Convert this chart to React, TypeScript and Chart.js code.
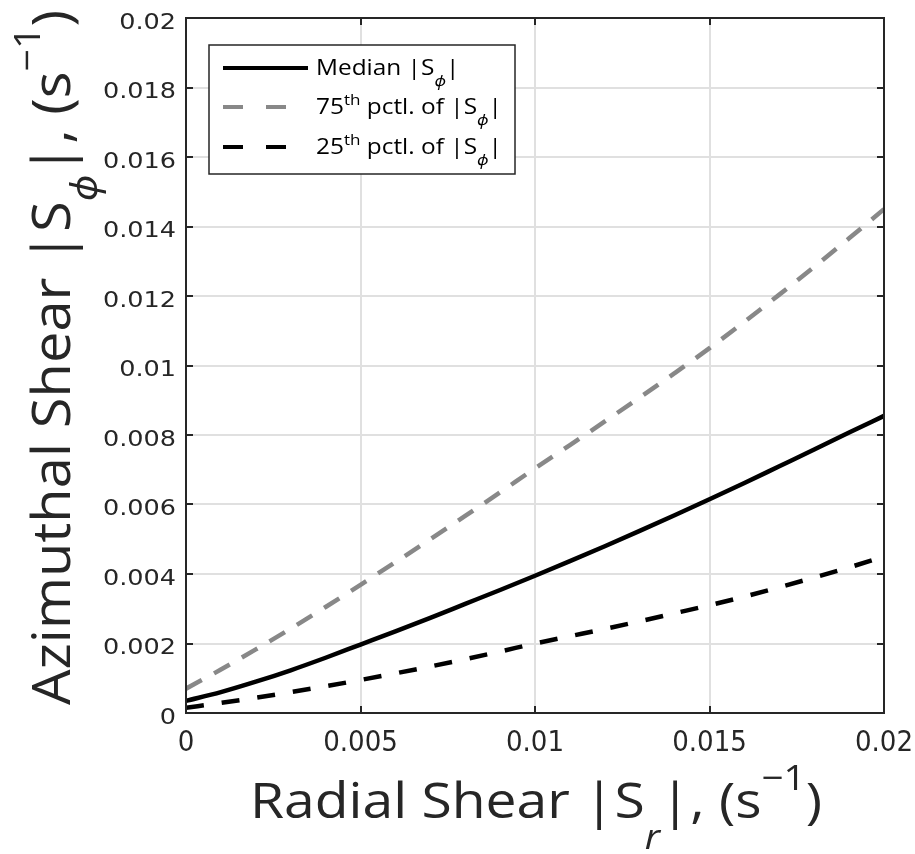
import React, { useEffect, useRef } from "react";
import { Chart, registerables } from "chart.js";

Chart.register(...registerables);

const xValues = [0, 0.001, 0.002, 0.003, 0.004, 0.005, 0.006, 0.007, 0.008, 0.009, 0.01, 0.011, 0.012, 0.013, 0.014, 0.015, 0.016, 0.017, 0.018, 0.019, 0.02];
const medianValues = [0.00035, 0.0006, 0.0009, 0.00123, 0.00159, 0.00197, 0.00235, 0.00274, 0.00314, 0.00354, 0.00395, 0.00437, 0.0048, 0.00524, 0.00569, 0.00615, 0.00662, 0.0071, 0.00758, 0.00807, 0.00855];
const p75Values = [0.0007, 0.00125, 0.00183, 0.00243, 0.00305, 0.00369, 0.00434, 0.005, 0.00567, 0.00635, 0.00704, 0.00771, 0.00839, 0.00908, 0.00978, 0.0105, 0.01126, 0.01204, 0.01284, 0.01366, 0.0145];
const p25Values = [0.00015, 0.00029, 0.00044, 0.0006, 0.00077, 0.00095, 0.00114, 0.00134, 0.00155, 0.00177, 0.002, 0.00221, 0.00242, 0.00264, 0.00287, 0.0031, 0.00335, 0.00362, 0.0039, 0.00419, 0.0045];

const xTickLabels = ["0", "0.005", "0.01", "0.015", "0.02"];
const yTickLabels = ["0", "0.002", "0.004", "0.006", "0.008", "0.01", "0.012", "0.014", "0.016", "0.018", "0.02"];

type Seg = { t: string; kind?: "sub" | "sup"; italic?: boolean };

const xTitle: Seg[] = [
  { t: "Radial Shear |S" },
  { t: "r", kind: "sub", italic: true },
  { t: "|, (s" },
  { t: "\u22121", kind: "sup" },
  { t: ")" },
];
const yTitle: Seg[] = [
  { t: "Azimuthal Shear |S" },
  { t: "\u03D5", kind: "sub", italic: true },
  { t: "|, (s" },
  { t: "\u22121", kind: "sup" },
  { t: ")" },
];
const legendRows: { segs: Seg[]; color: string; dash: number[] }[] = [
  { segs: [{ t: "Median |S" }, { t: "\u03D5", kind: "sub", italic: true }, { t: "|" }], color: "#000000", dash: [] },
  { segs: [{ t: "75" }, { t: "th", kind: "sup" }, { t: " pctl. of |S" }, { t: "\u03D5", kind: "sub", italic: true }, { t: "|" }], color: "#888888", dash: [20, 23] },
  { segs: [{ t: "25" }, { t: "th", kind: "sup" }, { t: " pctl. of |S" }, { t: "\u03D5", kind: "sub", italic: true }, { t: "|" }], color: "#000000", dash: [20, 23] },
];

const TITLE_FAMILY = "'Open Sans', 'Noto Sans', sans-serif";
const TEXT = "#262626";

function segFont(size: number, seg: Seg, fam: string) {
  const s = seg.kind ? size * 0.7 : size;
  return `${seg.italic ? "italic " : ""}${s}px ${fam}`;
}
function measureRich(ctx: CanvasRenderingContext2D, segs: Seg[], size: number, fam: string) {
  let w = 0;
  for (const s of segs) {
    ctx.font = segFont(size, s, fam);
    w += ctx.measureText(s.t).width;
  }
  return w;
}
function drawRich(ctx: CanvasRenderingContext2D, segs: Seg[], size: number, fam: string, subDy: number, supDy: number) {
  let x = 0;
  ctx.textAlign = "left";
  ctx.textBaseline = "alphabetic";
  for (const s of segs) {
    ctx.font = segFont(size, s, fam);
    const dy = s.kind === "sub" ? subDy * size : s.kind === "sup" ? -supDy * size : 0;
    ctx.fillText(s.t, x, dy);
    x += ctx.measureText(s.t).width;
  }
}

const decorPlugin = {
  id: "decor",
  afterDraw(chart: any) {
    const ctx: CanvasRenderingContext2D = chart.ctx;
    const { left, right, top, bottom } = chart.chartArea;
    const xs = chart.scales.x;
    const ys = chart.scales.y;
    ctx.save();
    // box
    ctx.strokeStyle = TEXT;
    ctx.lineWidth = 2;
    ctx.setLineDash([]);
    ctx.strokeRect(left, top, right - left, bottom - top);
    // ticks (inward)
    ctx.lineWidth = 2;
    ctx.beginPath();
    xs.ticks.forEach((t: any) => {
      const px = Math.round(xs.getPixelForValue(t.value));
      ctx.moveTo(px, bottom);
      ctx.lineTo(px, bottom - 7);
      ctx.moveTo(px, top);
      ctx.lineTo(px, top + 7);
    });
    ys.ticks.forEach((t: any) => {
      const py = Math.round(ys.getPixelForValue(t.value));
      ctx.moveTo(left, py);
      ctx.lineTo(left + 7, py);
      ctx.moveTo(right, py);
      ctx.lineTo(right - 7, py);
    });
    ctx.stroke();
    // tick labels
    ctx.fillStyle = TEXT;
    ctx.font = "22px 'DejaVu Sans'";
    ctx.textAlign = "right";
    ctx.textBaseline = "alphabetic";
    ys.ticks.forEach((t: any, i: number) => {
      const py = ys.getPixelForValue(t.value);
      ctx.save();
      ctx.translate(176, py + 10.5);
      ctx.scale(1.16, 1);
      ctx.fillText(yTickLabels[i] ?? "", 0, 0);
      ctx.restore();
    });
    ctx.font = "29px 'DejaVu Sans Condensed'";
    ctx.textAlign = "center";
    xs.ticks.forEach((t: any, i: number) => {
      const px = xs.getPixelForValue(t.value);
      ctx.fillText(xTickLabels[i] ?? "", px, 751);
    });
    // axis titles
    const xSize = 50;
    const xw = measureRich(ctx, xTitle, xSize, TITLE_FAMILY);
    ctx.save();
    ctx.translate(250, 818);
    ctx.scale(572 / xw, 1);
    drawRich(ctx, xTitle, xSize, TITLE_FAMILY, 0.62, 0.56);
    ctx.restore();
    const ySize = 53;
    const yw = measureRich(ctx, yTitle, ySize, TITLE_FAMILY);
    ctx.save();
    ctx.translate(70, 705);
    ctx.rotate(-Math.PI / 2);
    ctx.scale(695 / yw, 1);
    drawRich(ctx, yTitle, ySize, TITLE_FAMILY, 0.5, 0.56);
    ctx.restore();
    // legend
    ctx.fillStyle = "#ffffff";
    ctx.fillRect(209, 45, 306, 129);
    ctx.strokeStyle = TEXT;
    ctx.lineWidth = 1.5;
    ctx.strokeRect(209, 45, 306, 129);
    const lSize = 21;
    const lw = measureRich(ctx, legendRows[1].segs, lSize, TITLE_FAMILY);
    const ls = 186 / lw;
    const rowY = [68, 107, 147];
    legendRows.forEach((r, i) => {
      const y = rowY[i];
      ctx.strokeStyle = r.color;
      ctx.lineWidth = 4;
      ctx.setLineDash(r.dash);
      ctx.beginPath();
      ctx.moveTo(223, y);
      ctx.lineTo(308, y);
      ctx.stroke();
      ctx.setLineDash([]);
      ctx.fillStyle = "#000000";
      ctx.save();
      ctx.translate(316, y + 7);
      ctx.scale(ls, 1);
      drawRich(ctx, r.segs, lSize, TITLE_FAMILY, 0.5, 0.45);
      ctx.restore();
    });
    ctx.restore();
  },
};

export default function App() {
  const ref = useRef<HTMLCanvasElement | null>(null);
  useEffect(() => {
    document.body.style.margin = "0";
    const canvas = ref.current;
    if (!canvas) return;
    const mk = (vals: number[]) => xValues.map((x, i) => ({ x, y: vals[i] }));
    const chart = new Chart(canvas, {
      type: "line",
      data: {
        datasets: [
          { label: "Median", data: mk(medianValues), borderColor: "#000000", borderWidth: 4.5, pointRadius: 0, fill: false, cubicInterpolationMode: "monotone" },
          { label: "75th", data: mk(p75Values), borderColor: "#888888", borderWidth: 4.5, borderDash: [18, 14], pointRadius: 0, fill: false, cubicInterpolationMode: "monotone" },
          { label: "25th", data: mk(p25Values), borderColor: "#000000", borderWidth: 4.5, borderDash: [18, 18], pointRadius: 0, fill: false, cubicInterpolationMode: "monotone" },
        ],
      },
      options: {
        animation: false,
        responsive: false,
        devicePixelRatio: 1,
        layout: { padding: { left: 186, right: 31, top: 18, bottom: 141 } },
        plugins: { legend: { display: false }, tooltip: { enabled: false } },
        scales: {
          x: {
            type: "linear",
            min: 0,
            max: 0.02,
            ticks: { display: false, stepSize: 0.005 },
            grid: { color: "#e0e0e0", lineWidth: 2, drawTicks: false },
            border: { display: false },
          },
          y: {
            type: "linear",
            min: 0,
            max: 0.02,
            ticks: { display: false, stepSize: 0.002 },
            grid: { color: "#e0e0e0", lineWidth: 2, drawTicks: false },
            border: { display: false },
          },
        },
      },
      plugins: [decorPlugin],
    });
    return () => chart.destroy();
  }, []);
  return (
    <div style={{ width: 915, height: 854, background: "#fff" }}>
      <canvas ref={ref} width={915} height={854} />
    </div>
  );
}
